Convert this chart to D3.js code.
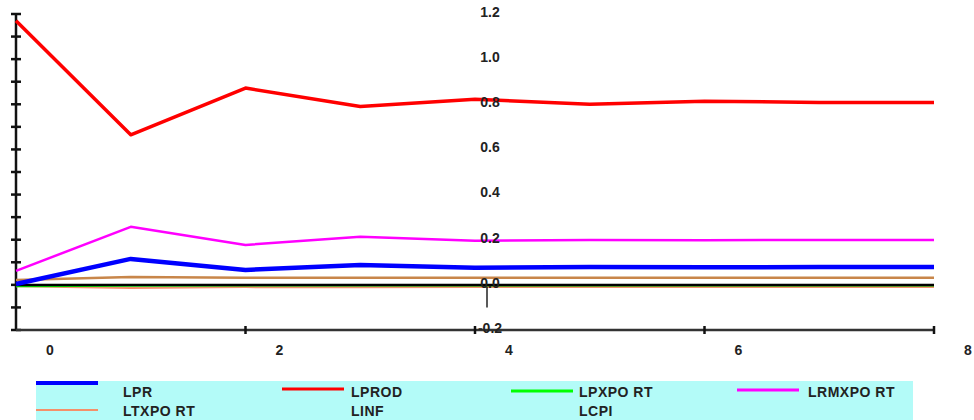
<!DOCTYPE html>
<html>
<head>
<meta charset="utf-8">
<script src="https://cdn.jsdelivr.net/npm/d3@7"></script>
<style>
  body { margin: 0; background: #fff; }
  text { font-family: "Liberation Sans", Arial, sans-serif; font-weight: bold; fill: #222; }
</style>
</head>
<body>
<div id="chart"></div>
<script>
// impulse responses, 9 periods
const periods = [0, 1, 2, 3, 4, 5, 6, 7, 8]
const lpr      = [0.004, 0.115, 0.066, 0.088, 0.076, 0.079, 0.078, 0.079, 0.079]
const lprod    = [1.170, 0.665, 0.872, 0.790, 0.822, 0.800, 0.814, 0.808, 0.808]
const lpxport  = [-0.006, -0.004, -0.003, -0.003, -0.003, -0.003, -0.003, -0.003, -0.003]
const lrmxport = [0.062, 0.257, 0.177, 0.213, 0.195, 0.199, 0.198, 0.199, 0.199]
const ltxport  = [-0.006, -0.014, -0.010, -0.011, -0.010, -0.010, -0.010, -0.010, -0.010]
const linf     = [0.022, 0.035, 0.031, 0.032, 0.031, 0.031, 0.031, 0.031, 0.031]
const lcpi     = [-0.001, -0.001, -0.001, -0.001, -0.001, -0.001, -0.001, -0.001, -0.001]

const seriesNames = ['LPR', 'LPROD', 'LPXPO RT', 'LRMXPO RT', 'LTXPO RT', 'LINF', 'LCPI']
const seriesColors = ['#0000ff', '#ff0000', '#00ff00', '#ff00ff', '#f4906a', '#c8864a', '#000000']
const seriesValues = [lpr, lprod, lpxport, lrmxport, ltxport, linf, lcpi]
const xTicks = [0, 2, 4, 6, 8]
const yTicks = [-0.2, 0.0, 0.2, 0.4, 0.6, 0.8, 1.0, 1.2]

const width = 974
const height = 420

const svg = d3.select('#chart').append('svg')
  .attr('width', width)
  .attr('height', height)

const x = d3.scaleLinear().domain([0, 8]).range([16, 934])
const y = d3.scaleLinear().domain([-0.2, 1.2]).range([330, 14])

// left axis with crossing ticks every 0.1
svg.append('line')
  .attr('x1', x(0)).attr('x2', x(0))
  .attr('y1', y(1.2)).attr('y2', y(-0.2))
  .attr('stroke', '#111').attr('stroke-width', 2.5)
svg.append('g').selectAll('line')
  .data(d3.range(-2, 13).map(d => d / 10))
  .join('line')
  .attr('x1', x(0) - 5).attr('x2', x(0) + 5)
  .attr('y1', d => y(d)).attr('y2', d => y(d))
  .attr('stroke', '#111').attr('stroke-width', 2.5)

// bottom axis
svg.append('line')
  .attr('x1', x(0)).attr('x2', x(8))
  .attr('y1', y(-0.2)).attr('y2', y(-0.2))
  .attr('stroke', '#333').attr('stroke-width', 2.5)
svg.append('g').selectAll('line')
  .data(xTicks.slice(1))
  .join('line')
  .attr('x1', d => x(d)).attr('x2', d => x(d))
  .attr('y1', y(-0.2) - 4).attr('y2', y(-0.2) + 4)
  .attr('stroke', '#111').attr('stroke-width', 2.5)

svg.append('g').selectAll('text')
  .data(xTicks)
  .join('text')
  .attr('x', d => x(d) + 34)
  .attr('y', 350)
  .attr('dy', '0.35em')
  .attr('text-anchor', 'middle')
  .style('font-size', '14px')
  .text(d => d)

// series lines (drawn back to front)
const line = d3.line().x((d, i) => x(periods[i])).y(d => y(d))
const drawOrder = [4, 2, 5, 6, 0, 3, 1]
const widths = [4.5, 3.5, 2, 2.5, 2, 2.5, 2.5]
drawOrder.forEach(k => {
  svg.append('path')
    .datum(seriesValues[k])
    .attr('fill', 'none')
    .attr('stroke', seriesColors[k])
    .attr('stroke-width', widths[k])
    .attr('stroke-linejoin', 'round')
    .attr('d', line)
})

// value labels in the middle of the plot
svg.append('g').selectAll('text')
  .data(yTicks)
  .join('text')
  .attr('x', x(4) + 15)
  .attr('y', d => y(d) - 2)
  .attr('dy', '0.35em')
  .attr('text-anchor', 'middle')
  .style('font-size', '14px')
  .text(d => d.toFixed(1))
svg.append('line')
  .attr('x1', x(4) + 12).attr('x2', x(4) + 12)
  .attr('y1', y(0) + 2).attr('y2', y(-0.1))
  .attr('stroke', '#222').attr('stroke-width', 1.5)

// legend
const legend = svg.append('g')
legend.append('rect')
  .attr('x', 36).attr('y', 381)
  .attr('width', 877).attr('height', 45)
  .attr('fill', '#b3fbf8')
const sampleX = [36, 282, 511, 737]
const textX = [123, 351, 579, 808]
const sampleY = [383, 389, 391, 390]
seriesNames.forEach((name, i) => {
  const col = i % 4
  const row = Math.floor(i / 4)
  if (i < 5) {
    legend.append('line')
      .attr('x1', sampleX[col]).attr('x2', sampleX[col] + 62)
      .attr('y1', row === 0 ? sampleY[col] : 410)
      .attr('y2', row === 0 ? sampleY[col] : 410)
      .attr('stroke', seriesColors[i])
      .attr('stroke-width', i === 0 ? 4 : (row === 0 ? 3 : 2))
  }
  legend.append('text')
    .attr('x', textX[col])
    .attr('y', row === 0 ? 392 : 411)
    .attr('dy', '0.35em')
    .style('font-size', '14px')
    .style('letter-spacing', '0.5px')
    .text(name)
})
</script>
</body>
</html>
